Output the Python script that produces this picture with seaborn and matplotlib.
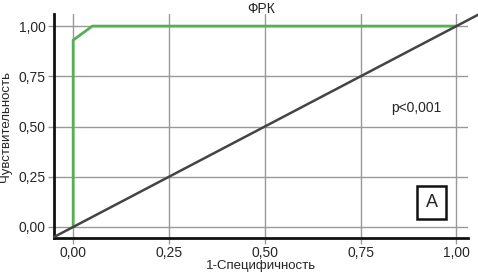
import matplotlib
matplotlib.use("Agg")
import matplotlib.pyplot as plt
import seaborn as sns
import pandas as pd
from matplotlib import font_manager

fpr = [0.0, 0.0, 0.05, 1.0]
tpr = [0.0, 0.93, 1.0, 1.0]
diag = [-0.05, 1.06]
ticks = [0.0, 0.25, 0.5, 0.75, 1.0]
tick_labels = ["0,00", "0,25", "0,50", "0,75", "1,00"]
title = "ФРК"
xlabel = "1-Специфичность"
ylabel = "Чувствительность"
ptext = "p<0,001"
panel = "A"

sns.set_style("white")
names = {f.name for f in font_manager.fontManager.ttflist}
fam = "Liberation Sans Narrow" if "Liberation Sans Narrow" in names else "Liberation Sans"
plt.rcParams["font.family"] = [fam, "DejaVu Sans"]

fig = plt.figure(figsize=(4.78, 2.75), dpi=100)
ax = fig.add_axes([0.113, 0.1345, 0.979 - 0.113, 0.949 - 0.1345])

df = pd.DataFrame({"x": fpr, "y": tpr})
sns.lineplot(data=df, x="x", y="y", sort=False, estimator=None, color="#55b055", lw=2, ax=ax, zorder=3)
ax.plot(diag, diag, color="#444444", lw=1.8, clip_on=False, zorder=4)

ax.set_xlim(-0.05, 1.03)
ax.set_ylim(-0.055, 1.06)
ax.set_xticks(ticks)
ax.set_xticklabels(tick_labels)
ax.set_yticks(ticks)
ax.set_yticklabels(tick_labels)
ax.grid(True, color="#999999", lw=1)
ax.set_axisbelow(True)
for s in ["top", "right"]:
    ax.spines[s].set_visible(False)
for s in ["left", "bottom"]:
    ax.spines[s].set_color("#111111")
    ax.spines[s].set_linewidth(2)
ax.tick_params(axis="both", labelsize=10, length=4, width=1, color="#999999", direction="out", pad=2, left=True, bottom=True)
ax.set_xlabel(xlabel, fontsize=9.5, labelpad=0)
ax.set_ylabel(ylabel, fontsize=9.5, labelpad=5)
ax.set_title(title, fontsize=10, pad=1)
ax.text(0.896, 0.59, ptext, fontsize=10, ha="center", va="center")
ax.text(0.935, 0.12, panel, fontsize=13, ha="center", va="center",
        bbox=dict(boxstyle="square,pad=0.45", fc="white", ec="#111111", lw=1.8))

fig.savefig("out.png", dpi=100)
